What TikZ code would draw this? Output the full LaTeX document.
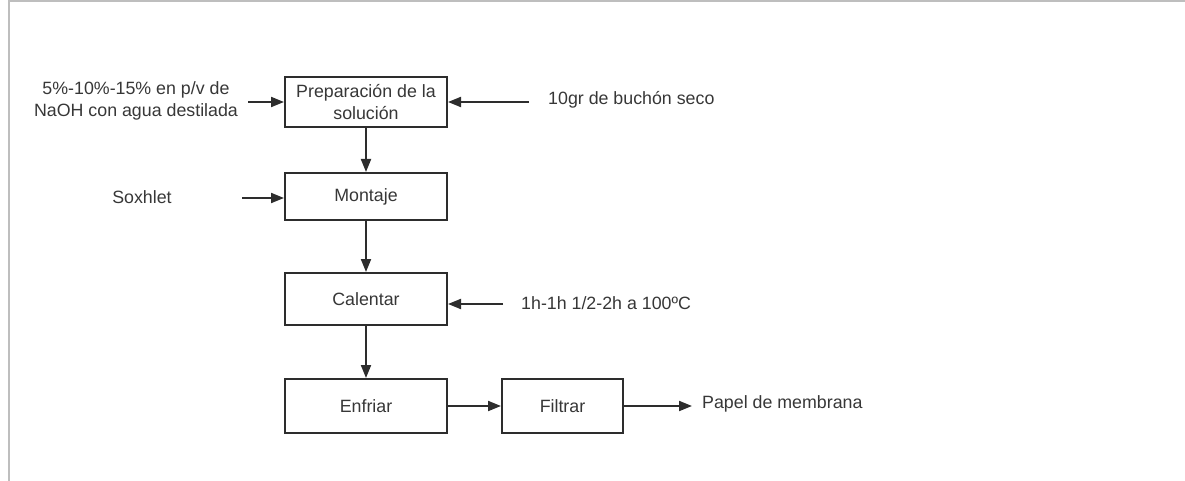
\documentclass[tikz,border=0pt]{standalone}
\usepackage{fontspec}
\setmainfont{Liberation Sans}
\usetikzlibrary{arrows.meta}
\definecolor{txt}{RGB}{55,55,55}
\definecolor{ln}{RGB}{45,45,45}
\definecolor{framegray}{RGB}{190,190,190}
\tikzset{
  procbox/.style={draw=ln, line width=2pt, fill=white, text=txt, align=center,
    font=\fontsize{17.8}{22}\selectfont, inner sep=0pt},
  lbl/.style={text=txt, font=\fontsize{17.8}{22}\selectfont, inner sep=0pt},
  arr/.style={draw=ln, line width=2pt, -{Triangle[length=13pt,width=10pt]}}
}
\begin{document}
\begin{tikzpicture}[x=1pt,y=-1pt]
\useasboundingbox (0,0) rectangle (1185,481);
\draw[framegray, line width=2pt] (9,481) -- (9,1) -- (1185,1);

\node[procbox, minimum width=162pt, minimum height=50pt] (p1) at (366,102) {Preparación de la\\solución};
\node[procbox, minimum width=162pt, minimum height=47pt] (p2) at (366,196.5) {Montaje};
\node[procbox, minimum width=162pt, minimum height=52pt] (p3) at (366,299) {Calentar};
\node[procbox, minimum width=162pt, minimum height=54pt] (p4) at (366,406) {Enfriar};
\node[procbox, minimum width=121pt, minimum height=54pt] (p5) at (562.5,406) {Filtrar};

\node[lbl, align=center] (tin) at (136,101) {5\%-10\%-15\% en p/v de\\NaOH con agua destilada};
\node[lbl, anchor=west] (tbu) at (548,100) {10gr de buchón seco};
\node[lbl] (tsox) at (142,197) {Soxhlet};
\node[lbl, anchor=west] (tcal) at (521,303) {1h-1h 1/2-2h a 100ºC};
\node[lbl, anchor=west] (tpap) at (702,404) {Papel de membrana};

\coordinate (c1) at (248,102);
\coordinate (c2) at (529,102);
\coordinate (c3) at (242,198);
\coordinate (c4) at (503,304);
\coordinate (c5) at (692,406);

\draw[arr] (c1) -- (c1 -| p1.west);
\draw[arr] (c2) -- (c2 -| p1.east);
\draw[arr] (c3) -- (c3 -| p2.west);
\draw[arr] (c4) -- (c4 -| p3.east);
\draw[arr] (p1.south) -- (p2.north);
\draw[arr] (p2.south) -- (p3.north);
\draw[arr] (p3.south) -- (p4.north);
\draw[arr] (p4.east) -- (p5.west);
\draw[arr] (p5.east) -- (c5);
\end{tikzpicture}
\end{document}
